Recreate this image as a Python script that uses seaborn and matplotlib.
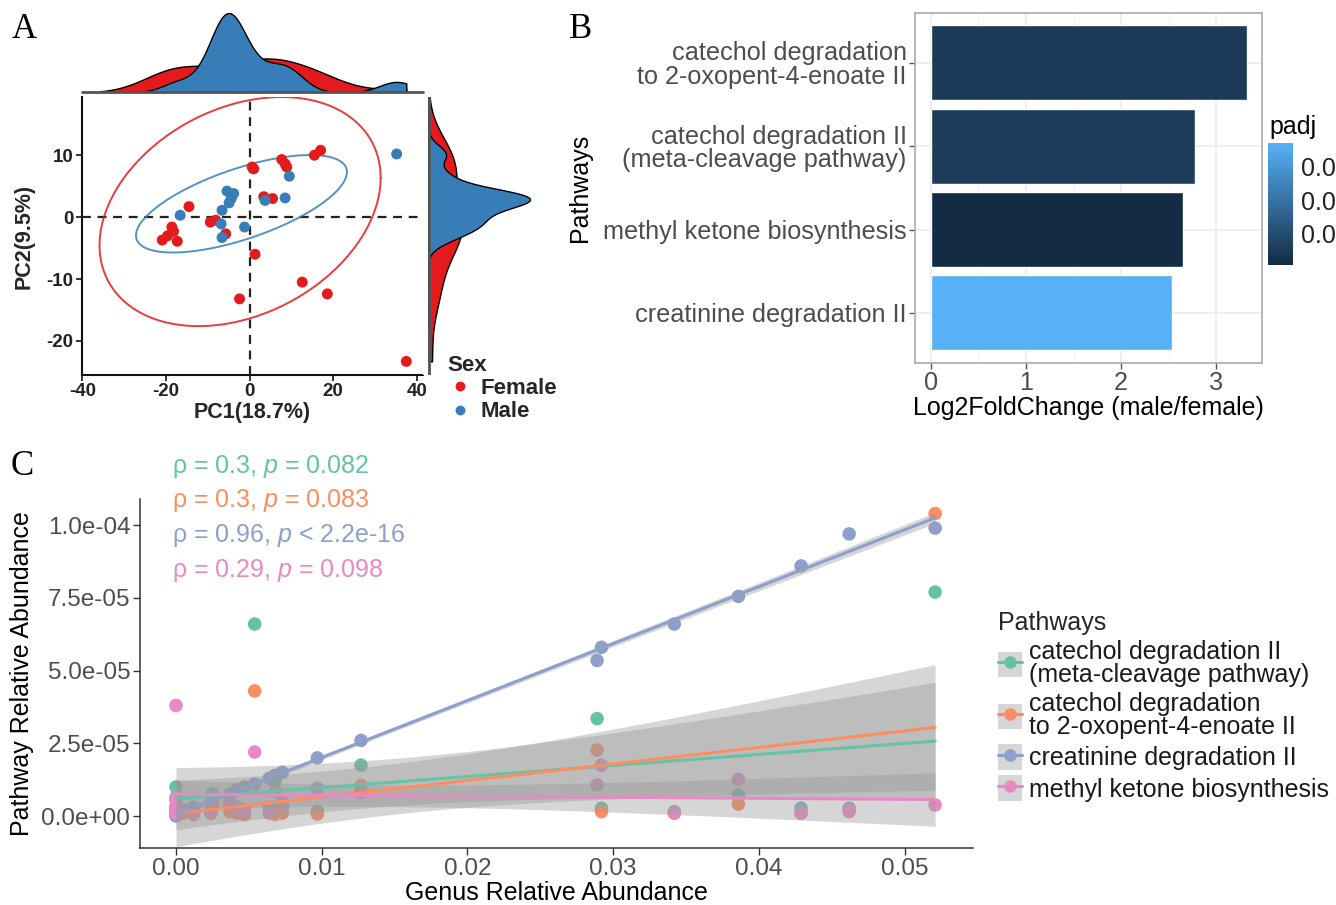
import numpy as np
import pandas as pd
import matplotlib
matplotlib.use("Agg")
import matplotlib.pyplot as plt
import seaborn as sns
from matplotlib.patches import Rectangle
from matplotlib.lines import Line2D
from matplotlib.colors import LinearSegmentedColormap, Normalize
from matplotlib.cm import ScalarMappable
from matplotlib.ticker import FuncFormatter, MultipleLocator

sns.set_theme(style="white")
plt.rcParams["font.family"] = ["Liberation Sans", "DejaVu Sans"]
plt.rcParams["mathtext.fontset"] = "custom"
plt.rcParams["mathtext.rm"] = "Liberation Sans"
plt.rcParams["mathtext.it"] = "Liberation Sans:italic"
plt.rcParams["axes.unicode_minus"] = False

# ---------------- Panel A data (PCA) ----------------
female_pc1 = [0.6, 1.0, 7.7, 8.5, 8.9, 15.5, 17.0, 3.4, 5.5, -14.5, -9.4, -8.1, -5.7,
              -20.9, -19.6, -18.6, -18.2, -17.3, 1.3, 12.6, 18.6, -2.4, 37.5]
female_pc2 = [8.1, 7.8, 9.3, 8.6, 8.1, 10.0, 10.8, 3.3, 3.0, 1.7, -0.8, -0.5, -2.7,
              -3.7, -3.0, -1.6, -2.3, -3.9, -6.0, -10.5, -12.4, -13.2, -23.3]
male_pc1 = [35.2, 9.5, 8.5, 3.7, -5.4, -3.8, -4.4, -4.9, -6.6, -6.8, -6.6, -16.6, -1.2]
male_pc2 = [10.2, 6.6, 3.1, 2.7, 4.2, 3.8, 3.0, 2.3, 1.1, -1.1, -3.3, 0.3, -1.6]
sex_levels = ["Female", "Male"]

# ---------------- Panel B data ----------------
pathways_B = ["catechol degradation\nto 2-oxopent-4-enoate II",
              "catechol degradation II\n(meta-cleavage pathway)",
              "methyl ketone biosynthesis",
              "creatinine degradation II"]
log2fc = [3.32, 2.78, 2.65, 2.53]
padj = [0.0050, 0.0055, 0.0008, 0.0370]
padj_ticks = [0.01, 0.02, 0.03]

# ---------------- Panel C data ----------------
pathways_C = ["catechol degradation II\n(meta-cleavage pathway)",
              "catechol degradation\nto 2-oxopent-4-enoate II",
              "creatinine degradation II",
              "methyl ketone biosynthesis"]
genus = [0.0, 0.0, 0.0, 0.0, 0.0005, 0.0012, 0.0024, 0.0025, 0.0037, 0.0042, 0.0047, 0.0054,
         0.0064, 0.0068, 0.0073, 0.0097, 0.0127, 0.0289, 0.0292, 0.0342, 0.0386, 0.0429,
         0.0462, 0.0521]
catechol_meta = [1.0, 0.65, 0.3, 0.1, 0.2, 0.1, 0.1, 0.76, 0.5, 0.3, 0.2, 6.6,
                 0.3, 1.2, 0.3, 0.15, 1.75, 3.35, 0.27, 0.15, 0.72, 0.27, 0.27, 7.7]
catechol_oxo = [0.55, 0.3, 0.2, 0.15, 0.1, 0.05, 0.1, 0.3, 0.15, 0.1, 0.05, 4.3,
                0.1, 0.05, 0.1, 0.07, 1.05, 2.27, 0.15, 0.1, 0.41, 0.1, 0.15, 10.4]
creatinine = [0.0, 0.05, 0.1, 0.15, 0.2, 0.3, 0.45, 0.5, 0.75, 0.9, 1.0, 1.1,
              1.3, 1.4, 1.5, 2.0, 2.6, 5.35, 5.8, 6.6, 7.55, 8.6, 9.7, 9.9]
methyl_ketone = [3.8, 0.6, 0.3, 0.1, 0.2, 0.1, 0.2, 0.3, 0.4, 0.3, 0.2, 2.2,
                 0.1, 0.84, 0.5, 0.96, 0.8, 1.07, 1.75, 0.1, 1.26, 0.1, 0.2, 0.38]
abund_scale = 1e-5
cor_labels = [r"ρ = 0.3, $\mathit{p}$ = 0.082",
              r"ρ = 0.3, $\mathit{p}$ = 0.083",
              r"ρ = 0.96, $\mathit{p}$ < 2.2e-16",
              r"ρ = 0.29, $\mathit{p}$ = 0.098"]

# ---------------- figure ----------------
W, H = 1336, 905
fig = plt.figure(figsize=(W / 100, H / 100), dpi=100)
fig.patch.set_facecolor("white")


def px_axes(x0, y0, x1, y1, **kw):
    return fig.add_axes([x0 / W, 1 - y1 / H, (x1 - x0) / W, (y1 - y0) / H], **kw)


def nrd0_factor(v):
    v = np.asarray(v, float)
    sd = v.std(ddof=1)
    iqr = np.subtract(*np.percentile(v, [75, 25]))
    bw = 0.9 * min(sd, iqr / 1.34) * len(v) ** (-0.2)
    return bw / sd


def trob_ellipse(x, y, level_scale, nu=5, n_pts=200):
    X = np.column_stack([x, y]).astype(float)
    loc = X.mean(0)
    cov = np.cov(X.T)
    for _ in range(100):
        d = X - loc
        d2 = np.einsum("ij,jk,ik->i", d, np.linalg.inv(cov), d)
        w = (nu + 2) / (nu + d2)
        loc = (w[:, None] * X).sum(0) / w.sum()
        d = X - loc
        cov = (w[:, None, None] * np.einsum("ij,ik->ijk", d, d)).sum(0) / len(X)
    t = np.linspace(0, 2 * np.pi, n_pts)
    circ = np.column_stack([np.cos(t), np.sin(t)])
    L = np.linalg.cholesky(cov)
    pts = loc + level_scale * circ @ L.T
    return pts[:, 0], pts[:, 1]


# ================= Panel A =================
dfA = pd.DataFrame({
    "PC1": female_pc1 + male_pc1,
    "PC2": female_pc2 + male_pc2,
    "Sex": ["Female"] * len(female_pc1) + ["Male"] * len(male_pc1),
})
pal_sex = {"Female": "#E41A1C", "Male": "#377EB8"}

axA = px_axes(82, 97, 423, 375)
axA.axhline(0, color="#222222", ls=(0, (4, 3)), lw=1.6, zorder=1)
axA.axvline(0, color="#222222", ls=(0, (4, 3)), lw=1.6, zorder=1)
sns.scatterplot(data=dfA, x="PC1", y="PC2", hue="Sex", hue_order=sex_levels,
                palette=pal_sex, s=62, linewidth=0, ax=axA, zorder=3)
hA, lA = axA.get_legend_handles_labels()
axA.get_legend().remove()
qf95 = {"Female": 3.443, "Male": 3.885}
ellipse_widen = 1.05
ell_x, ell_y = [], []
for sex in sex_levels:
    sub = dfA[dfA.Sex == sex]
    ex, ey = trob_ellipse(sub.PC1, sub.PC2, ellipse_widen * np.sqrt(2 * qf95[sex]))
    ell_x.extend(ex)
    ell_y.extend(ey)
    axA.plot(ex, ey, color=pal_sex[sex], lw=1.4, alpha=0.85, zorder=2)
# marginal density ranges follow the panel's trained scale (points + ellipses)
rng_x = (min(min(ell_x), dfA.PC1.min()), max(max(ell_x), dfA.PC1.max()))
rng_y = (min(min(ell_y), dfA.PC2.min()), max(max(ell_y), dfA.PC2.max()))

axA.set_xlim(-40.1, 41.5)
axA.set_ylim(-25.5, 19.4)
axA.set_xticks([-40, -20, 0, 20, 40])
axA.set_yticks([-20, -10, 0, 10])
for s in ["top", "right"]:
    axA.spines[s].set_visible(False)
for s in ["left", "bottom"]:
    axA.spines[s].set_color("#111111")
    axA.spines[s].set_linewidth(1.5)
axA.tick_params(axis="both", which="both", length=4, width=1.2, color="#111111",
                labelsize=13.5, labelcolor="#222222", bottom=True, left=True, pad=2)
for t in axA.get_xticklabels() + axA.get_yticklabels():
    t.set_fontweight("bold")
axA.set_xlabel("PC1(18.7%)", fontsize=15.5, fontweight="bold")
axA.set_ylabel("PC2(9.5%)", fontsize=15.5, fontweight="bold")
axA.xaxis.set_label_coords(0.5, -(402 - 375) / 278)
axA.yaxis.set_label_coords(-(82 - 35) / 341, 0.5)

# top marginal
axT = px_axes(82, 13, 423, 92.5)
for sex in sex_levels:
    sub = dfA[dfA.Sex == sex]
    sns.kdeplot(data=sub, x="PC1", fill=True, color=pal_sex[sex], alpha=1,
                edgecolor="black", linewidth=1.0, bw_method=nrd0_factor(sub.PC1),
                clip=rng_x, cut=10, ax=axT)
axT.set_xlim(axA.get_xlim())
axT.set_ylim(0, axT.dataLim.y1)
axT.axis("off")
axT.axhline(0, color="#555555", lw=2, clip_on=False)

# right marginal
axR = px_axes(423, 97, 540, 375)
axR.set_facecolor("white")
for sex in sex_levels:
    sub = dfA[dfA.Sex == sex]
    sns.kdeplot(data=sub, y="PC2", fill=True, color=pal_sex[sex], alpha=1,
                edgecolor="black", linewidth=1.0, bw_method=nrd0_factor(sub.PC2),
                clip=rng_y, cut=10, ax=axR)
peak = axR.dataLim.x1
span = peak * 117 / (530 - 428.5)
lo = -5.5 / 117 * span
axR.set_xlim(lo, lo + span)
axR.set_ylim(axA.get_ylim())
for s in ["top", "right", "bottom", "left"]:
    axR.spines[s].set_visible(False)
axR.set_xticks([])
axR.set_yticks([])
axR.set_xlabel("")
axR.set_ylabel("")
axR.axvline(0, color="#555555", lw=2)

legA = fig.legend(hA, lA, title="Sex", loc="upper left",
                  bbox_to_anchor=(438 / W, 1 - 346 / H), frameon=False,
                  prop={"weight": "bold", "size": 16},
                  title_fontproperties={"weight": "bold", "size": 16},
                  handletextpad=0.3, labelspacing=0.1, borderaxespad=0,
                  handlelength=1.2, markerscale=0.9)
legA._legend_box.align = "left"

# ================= Panel B =================
cmap_padj = LinearSegmentedColormap.from_list("padj", ["#132B43", "#56B1F7"])
norm_padj = Normalize(vmin=min(padj), vmax=max(padj))
bar_colors = [cmap_padj(norm_padj(v)) for v in padj]
dfB = pd.DataFrame({"Pathways": pathways_B, "log2fc": log2fc, "padj": padj})

axB = px_axes(915, 13, 1262, 363)
axB.set_axisbelow(True)
sns.barplot(data=dfB, x="log2fc", y="Pathways", hue="Pathways", order=pathways_B,
            hue_order=pathways_B, palette=bar_colors, orient="h", width=0.9,
            saturation=1, legend=False, ax=axB)
axB.set_xlim(-0.166, 3.48)
axB.set_ylim(3.6, -0.6)
axB.set_xticks([0, 1, 2, 3])
axB.xaxis.set_minor_locator(MultipleLocator(0.5))
axB.grid(True, which="major", color="#EBEBEB", lw=1.2)
axB.grid(True, which="minor", axis="x", color="#F3F3F3", lw=0.7)
for s in axB.spines.values():
    s.set_color("#AAAAAA")
    s.set_linewidth(1.2)
axB.tick_params(axis="both", which="major", length=4, width=1, color="#555555",
                labelsize=18.2, labelcolor="#4D4D4D", bottom=True, left=True, pad=2)
axB.tick_params(axis="x", which="minor", length=0)
for t in axB.get_yticklabels():
    t.set_linespacing(0.95)
axB.set_xlabel("Log2FoldChange (male/female)", fontsize=18, color="black")
axB.set_ylabel("Pathways", fontsize=18, color="black")
axB.xaxis.set_label_coords(0.5, -(396 - 363) / 350)
axB.yaxis.set_label_coords(-(915 - 592) / 347, 0.5)

caxB = px_axes(1268, 143, 1293, 265)
cb = fig.colorbar(ScalarMappable(norm=norm_padj, cmap=cmap_padj), cax=caxB,
                  ticks=padj_ticks)
cb.outline.set_visible(False)
cb.ax.yaxis.set_major_formatter(FuncFormatter(lambda v, p: f"{v:.1f}"))
caxB.tick_params(axis="y", which="both", direction="in", length=5, width=1,
                 color="white", left=True, right=True, labelsize=18,
                 labelcolor="#222222", pad=6)
caxB.minorticks_off()
fig.text(1269 / W, 1 - 127 / H, "padj", fontsize=18, color="black",
         ha="left", va="center")

# ================= Panel C =================
set2 = ["#66C2A5", "#FC8D62", "#8DA0CB", "#E78AC3"]
pal_C = dict(zip(pathways_C, set2))
series_C = [catechol_meta, catechol_oxo, creatinine, methyl_ketone]
dfC = pd.concat([
    pd.DataFrame({"genus": genus,
                  "abund": np.asarray(vals) * abund_scale,
                  "Pathway": name})
    for name, vals in zip(pathways_C, series_C)
], ignore_index=True)

axC = px_axes(140, 499, 973, 848)
sns.scatterplot(data=dfC, x="genus", y="abund", hue="Pathway", hue_order=pathways_C,
                palette=pal_C, s=95, linewidth=0, legend=False, ax=axC, zorder=2)

t975 = 2.074  # Student t quantile, df = n - 2 = 22
for name in pathways_C:
    sub = dfC[dfC.Pathway == name]
    x = sub.genus.to_numpy()
    y = sub.abund.to_numpy()
    n = len(x)
    slope, intercept = np.polyfit(x, y, 1)
    resid = y - (intercept + slope * x)
    s2 = (resid ** 2).sum() / (n - 2)
    grid = np.linspace(x.min(), x.max(), 100)
    se = np.sqrt(s2 * (1 / n + (grid - x.mean()) ** 2 / ((x - x.mean()) ** 2).sum()))
    fit = intercept + slope * grid
    axC.fill_between(grid, fit - t975 * se, fit + t975 * se, color="#999999",
                     alpha=0.4, lw=0, zorder=3)
    sns.regplot(data=sub, x="genus", y="abund", scatter=False, ci=None,
                color=pal_C[name], line_kws={"lw": 2.2, "zorder": 4}, ax=axC)
axC.set_xlim(-0.00247, 0.0547)
axC.set_ylim(-1.1e-5, 1.09e-4)
axC.set_xticks([0, 0.01, 0.02, 0.03, 0.04, 0.05])
axC.set_yticks([0, 2.5e-5, 5e-5, 7.5e-5, 1e-4])
axC.xaxis.set_major_formatter(FuncFormatter(lambda v, p: f"{v:.2f}"))
axC.yaxis.set_major_formatter(FuncFormatter(lambda v, p: f"{v:.1e}"))
for s in ["top", "right"]:
    axC.spines[s].set_visible(False)
for s in ["left", "bottom"]:
    axC.spines[s].set_color("#333333")
    axC.spines[s].set_linewidth(1.1)
axC.tick_params(axis="both", length=5, width=1, color="#333333", labelsize=17.5,
                labelcolor="#4D4D4D", bottom=True, left=True, pad=2)
axC.set_xlabel("Genus Relative Abundance", fontsize=18, color="black")
axC.set_ylabel("Pathway Relative Abundance", fontsize=18, color="black")
axC.xaxis.set_label_coords(0.5, -(881 - 848) / 349)
axC.yaxis.set_label_coords(-(140 - 34) / 833, 0.5)

for i, (lab, col) in enumerate(zip(cor_labels, set2)):
    fig.text(172 / W, 1 - (466 + 34.7 * i) / H, lab, fontsize=18, color=col,
             ha="left", va="center")

handles_C = [(Rectangle((0, 0), 1, 1, facecolor="#D6D6D6", edgecolor="none"),
              Line2D([], [], color=c, lw=2.2),
              Line2D([], [], color=c, marker="o", ls="", ms=9, mew=0))
             for c in set2]
legC = fig.legend(handles_C, pathways_C, title="Pathways", loc="upper left",
                  bbox_to_anchor=(988 / W, 1 - 601 / H), frameon=False,
                  fontsize=18, title_fontsize=18, handlelength=0.95,
                  handleheight=1.2, handletextpad=0.3, labelspacing=0.2,
                  borderaxespad=0)
legC._legend_box.align = "left"
for t in legC.get_texts():
    t.set_linespacing(0.95)
    t.set_color("#1A1A1A")

# panel letters
for letter, (x, y) in {"A": (12, 30), "B": (569, 30), "C": (11, 466)}.items():
    fig.text(x / W, 1 - y / H, letter, fontsize=25, family="Liberation Serif",
             ha="left", va="center", color="black")

fig.savefig("out.png", dpi=100, facecolor="white")
